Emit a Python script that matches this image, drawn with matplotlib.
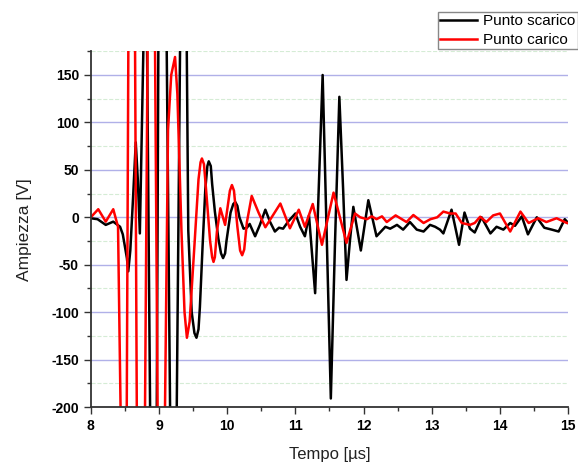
import matplotlib
matplotlib.use("Agg")
import matplotlib.pyplot as plt
from matplotlib.ticker import MultipleLocator

plt.rcParams['font.family'] = ['Liberation Sans', 'DejaVu Sans']
plt.rcParams['axes.unicode_minus'] = False

# Punto scarico (nero) - tempo [us], ampiezza [V]
t_scarico = [8.00, 8.10, 8.22, 8.33, 8.43, 8.47, 8.53, 8.55, 8.58, 8.62, 8.66, 8.69, 8.72,
             8.771, 8.80, 8.826, 8.870, 8.915, 8.968, 8.991, 9.05, 9.114, 9.163, 9.21, 9.261,
             9.309, 9.36, 9.408, 9.43, 9.48, 9.52, 9.55, 9.58, 9.60, 9.64, 9.68, 9.71, 9.73,
             9.76, 9.78, 9.82, 9.87, 9.91, 9.94, 9.97, 9.99, 10.05, 10.09, 10.12, 10.15,
             10.18, 10.24, 10.29, 10.33, 10.41, 10.48, 10.56, 10.63,
             10.70, 10.76, 10.82, 10.90, 11.00, 11.07, 11.14, 11.20, 11.29, 11.345, 11.40,
             11.46, 11.52, 11.58, 11.645, 11.70, 11.75, 11.80, 11.85, 11.96, 12.07, 12.19,
             12.32, 12.39, 12.49, 12.58, 12.68, 12.78, 12.88, 12.975, 13.05, 13.12, 13.17,
             13.29, 13.40, 13.48, 13.56, 13.63, 13.73, 13.86, 13.95, 14.05, 14.15, 14.22,
             14.32, 14.41, 14.54, 14.65, 14.76, 14.86, 14.95, 15.00]
v_scarico = [-1, -2, -8, -4.6, -10, -18, -43, -57, -35, 20, 79, 40, -17,
             175, 260, 175, -200, -290, -200, 175, 320, 175, -200, -300, -200,
             175, 300, 175, -14, -100, -122, -127, -118, -95, -30, 30, 54, 59,
             54, 35, 6, -22, -38, -43, -38, -25, 5, 14, 16, 12,
             0, -12, -11, -7, -20, -8, 8, -5,
             -15, -11, -12, -4, 4, -10, -20, 2, -80, 35, 150,
             -20, -191, -30, 127, 30, -66, -25, 11, -35, 18, -20,
             -10, -12, -8, -13, -5, -13, -15, -8, -10, -13, -17,
             8, -29, 5, -12, -16, 0, -17, -10, -13, -6, -9,
             1, -18, 0, -11, -13, -15, -2, -6]

# Punto carico (rosso)
t_carico = [8.00, 8.11, 8.22, 8.33, 8.40, 8.437, 8.48, 8.528, 8.551, 8.60, 8.65, 8.675,
            8.74, 8.796, 8.833, 8.884, 8.943, 8.98, 9.03, 9.089, 9.133, 9.18, 9.236, 9.27,
            9.33, 9.375, 9.41, 9.45, 9.52, 9.58, 9.61, 9.63, 9.66, 9.69, 9.75, 9.78, 9.80,
            9.82, 9.85, 9.90, 9.97, 10.04, 10.07, 10.10, 10.15, 10.19, 10.22, 10.25, 10.29,
            10.36, 10.46, 10.56, 10.67, 10.78, 10.92, 11.05,
            11.14, 11.255, 11.39, 11.56, 11.75, 11.875, 11.95, 12.05, 12.12, 12.19, 12.27,
            12.34, 12.47, 12.63, 12.73, 12.88, 12.98, 13.08, 13.17, 13.27, 13.35, 13.44,
            13.56, 13.63, 13.71, 13.80, 13.90, 14.00, 14.15, 14.30, 14.42, 14.56, 14.68,
            14.83, 14.98, 15.00]
v_carico = [0, 8.5, -4.6, 8.5, -10, -200, -290, -200, 175, 270, 175, -200,
            -300, -200, 175, 280, 175, -200, -290, -200, 92, 150, 169, 130,
            -14, -100, -127, -110, -30, 40, 58, 62, 56, 30, -25, -42, -47,
            -42, -15, 9.5, -8, 28, 34, 28, -10, -35, -40, -34, -5,
            22.5, 5, -10.5, 2, 14.5, -11.6, 8,
            -10, 14, -29, 26, -27, 4, 0, -2, 1, -2, 1,
            -5, 2, -5, 2.4, -6, -2, 0, 6, 4, 4, -6,
            -8, -6, 0.6, -5, 2, 4, -15, 6, -6, -1, -5,
            -1, -6, -6]

fig = plt.figure(figsize=(5.78, 4.62), dpi=100)
ax = fig.add_axes([0.157, 0.119, 0.826, 0.770])

ax.plot(t_scarico, v_scarico, color='black', lw=1.8, label='Punto scarico')
ax.plot(t_carico, v_carico, color='#ff0000', lw=1.8, label='Punto carico')

ax.set_xlim(8, 15)
ax.set_ylim(-200, 175)
ax.xaxis.set_major_locator(MultipleLocator(1))
ax.xaxis.set_minor_locator(MultipleLocator(0.5))
ax.yaxis.set_major_locator(MultipleLocator(50))
ax.yaxis.set_minor_locator(MultipleLocator(25))

ax.set_axisbelow(True)
ax.yaxis.grid(True, which='major', color='#b0b0e8', lw=1)
ax.yaxis.grid(True, which='minor', color='#d5ecd5', lw=0.8, ls='--')

for s in ['top', 'right']:
    ax.spines[s].set_visible(False)
for s in ['left', 'bottom']:
    ax.spines[s].set_color('#333333')
    ax.spines[s].set_linewidth(1.3)

ax.tick_params(which='major', direction='out', length=5, width=1, color='#333333')
ax.tick_params(which='minor', direction='out', length=3, width=1, color='#333333')
for lab in ax.get_xticklabels() + ax.get_yticklabels():
    lab.set_fontweight('bold')
    lab.set_fontsize(10)

ax.set_xlabel('Tempo [µs]', fontsize=12, color='#222222', labelpad=10)
ax.set_ylabel('Ampiezza [V]', fontsize=12.5, color='#222222', labelpad=14)

leg = ax.legend(loc='upper left', bbox_to_anchor=(438 / 578, 1 - 12 / 462),
                bbox_transform=fig.transFigure, borderaxespad=0, fontsize=11,
                fancybox=False, framealpha=1, edgecolor='#888888',
                handlelength=2.4, handletextpad=0.4, borderpad=0.15, labelspacing=0.3)
leg.get_frame().set_linewidth(1)

fig.savefig('out.png', dpi=100)
